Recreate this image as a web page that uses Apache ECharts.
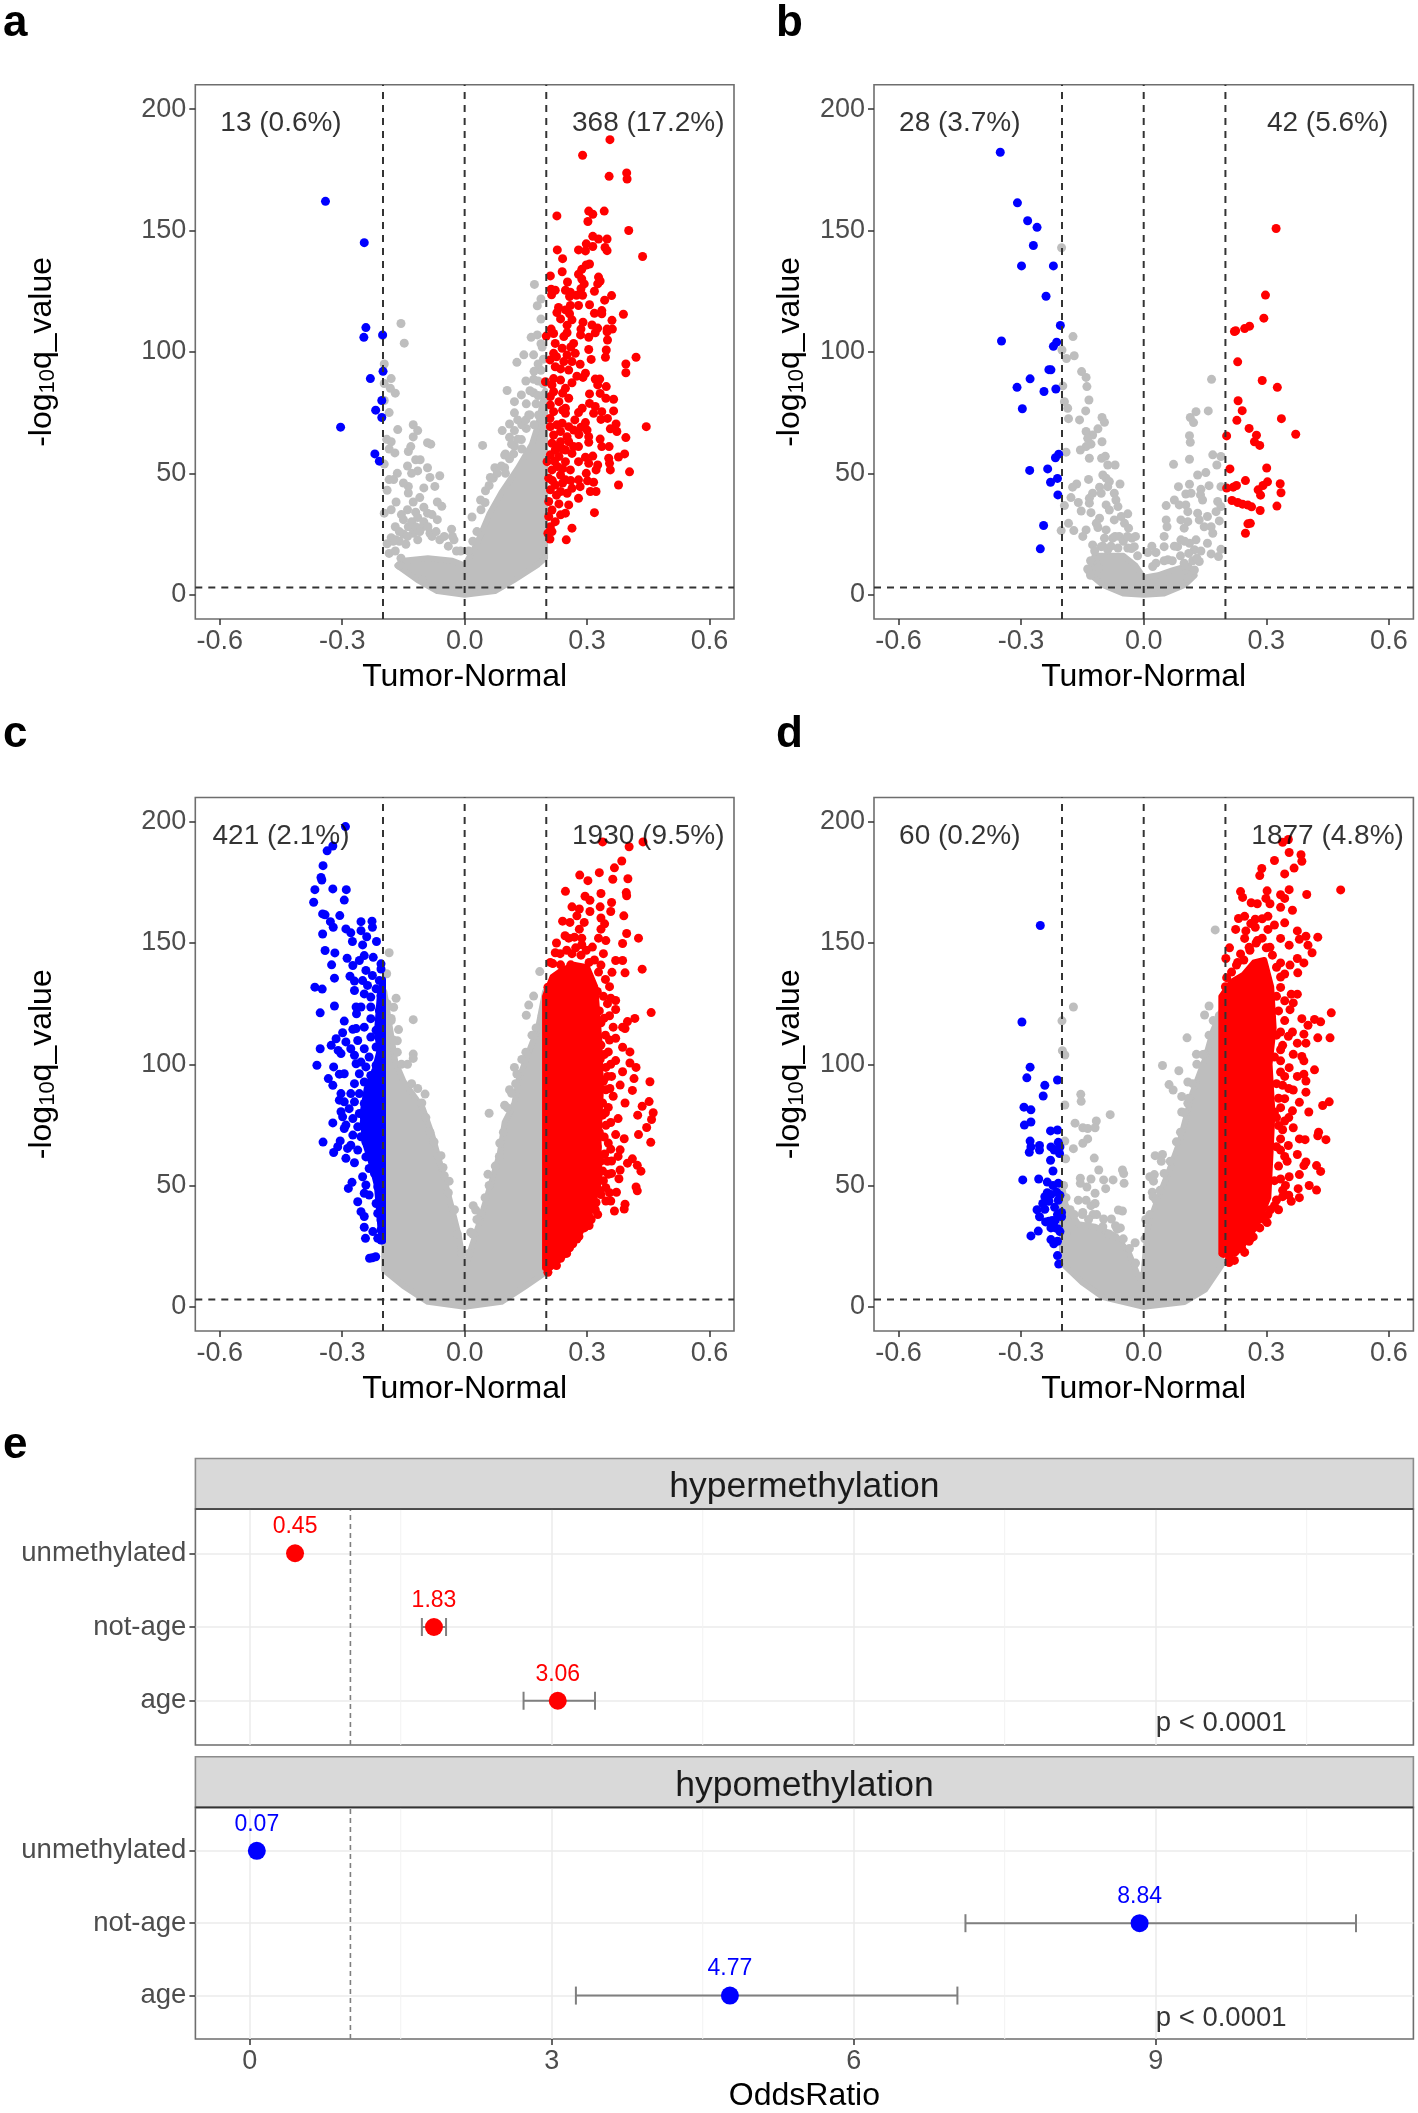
<!DOCTYPE html>
<html><head><meta charset="utf-8">
<script src="https://cdn.jsdelivr.net/npm/echarts@6/dist/echarts.min.js"></script>
<style>html,body{margin:0;padding:0;background:#fff}#c{width:1418px;height:2113px}</style>
</head><body><div id="c"></div>
<script>
// ---------- tick labels and categories ----------
const volcanoXTicks=[-0.6,-0.3,0,0.3,0.6];
const volcanoYTicks=[0,50,100,150,200];
const oddsXTicks=[0,3,6,9];
const oddsXMinor=[1.5,4.5,7.5,10.5];
const oddsCategories=['age','not-age','unmethylated'];
const oddsYTicks=[1,2,3];
const foldCuts=[-0.2,0,0.2];
const qCut=3;
const oddsRef=1;

// ---------- panel a ----------
const aBlue=[[-.341,162],[-.246,145],[-.242,110],[-.247,106],[-.201,107],[-.2,92],[-.231,89],[-.203,80],[-.218,76],[-.203,73],[-.304,69],[-.22,58],[-.209,55]];
const aRed=[[.356,187.4],[.289,181],[.354,172.3],[.397,173.7],[.398,171.2],[.226,156],[.304,158],[.314,156.7],[.342,158],[.302,153.7],[.402,150],[.314,147.6],[.328,146.5],[.349,146.5],[.227,142],[.279,142],[.296,141.6],[.298,144.5],[.314,143.4],[.344,143],[.349,141.7],[.436,139.3],[.24,138.4],[.306,136.2],[.298,135.8],[.287,134],[.239,133],[.21,131.3],[.279,132],[.287,130],[.328,130.8],[.332,129.2],[.326,128],[.252,128.8],[.293,128],[.285,126],[.212,125.8],[.222,125.4],[.247,125.4],[.259,124.6],[.274,123.3],[.289,123.3],[.318,125],[.213,123.5],[.257,122.8],[.36,123.2],[.343,121.3],[.23,118.3],[.259,119.1],[.279,119.1],[.306,119.4],[.226,116.2],[.247,117.3],[.257,115.7],[.318,115.9],[.336,117],[.336,115.7],[.389,115.5],[.235,113.6],[.263,113.2],[.361,113],[.251,111],[.29,112.2],[.212,109.4],[.285,109.4],[.312,111.1],[.326,109.8],[.349,109.4],[.362,109.4],
[.2,106.5],[.218,107.6],[.243,106.3],[.251,107.9],[.284,107],[.304,106],[.32,107.9],[.349,108.3],[.35,104.9],[.222,103.5],[.267,103.5],[.239,101.5],[.304,101],[.347,100.8],[.42,97.8],[.218,99.4],[.251,98.7],[.271,99.4],[.345,97.8],[.31,96.9],[.209,96.7],[.243,96],[.263,96],[.395,95],[.283,94.9],[.395,91.4],[.222,93.9],[.255,92.5],[.296,91.2],[.218,89],[.235,88.4],[.29,89.5],[.32,88.8],[.331,88.8],[.198,87.7],[.214,86.4],[.263,87.3],[.347,85.7],[.326,86.4],[.218,83.6],[.247,85],[.332,82.9],[.306,82.7],[.255,80.9],[.21,81.6],[.346,80.9],[.365,80.5],[.231,79.5],[.306,78.8],[.288,76.8],[.21,78.1],[.247,76.8],[.32,77.5],[.365,75.7],[.279,75],[.218,75.4],[.316,74.7],[.336,75.4],[.247,74.7],[.334,72.2],[.35,72.6],[.209,72.6],[.239,70.6],[.296,70.9],[.371,70.3],[.445,69.2],[.21,69.2],[.255,69.2],[.357,68.3],[.267,67.8],[.3,67.8],[.235,67.2],[.373,67.2],[.218,65.8],[.251,65.1],[.304,65.1],[.395,64.7],[.332,64.1],[.214,62.4],[.304,62.8],[.235,63],[.267,61],[.336,61],[.354,61],[.222,59.6],[.247,59.6],[.279,61],[.392,58],[.377,56.7],[.21,57.6],[.231,56.9],[.263,58.2],[.314,57.1],[.296,56.6],[.353,56.2],[.279,54.8],[.304,54.1],[.202,54.8],[.227,52.8],[.247,54.8],[.326,53.4],[.355,54.1],[.322,51.4],[.357,51.4],[.214,51.4],[.259,51.4],[.404,50.6],[.298,50],[.235,49.3],[.206,48],[.279,47.3],[.247,47.3],[.301,46.9],[.316,46.3],[.222,45.2],[.377,45.2],[.283,44.5],[.263,43.8],[.21,43.2],[.235,42.5],[.308,42.5],[.322,42.5],[.251,41.8],[.279,39.7],[.206,38.4],[.231,37.4],[.255,37],[.214,34.9],[.235,32.9],[.318,33.8],[.247,33.6],[.206,32.2],[.222,30.1],[.21,28],[.263,27.4],[.214,26],[.204,25.3],[.249,22.6],[.209,22.9],
[.225,98],[.235,93],[.26,102],[.275,90],[.24,83],[.226,70],[.24,76],[.27,72],[.285,69],[.225,61],[.24,60],[.255,63],[.28,66],[.22,55],[.24,52],[.26,47],[.215,47],[.225,41],[.24,46]];
const aGrey=[[-.156,111.7],[-.148,103.6],[-.201,106.7],[-.197,95],[-.18,89],[-.197,87],[-.182,85],[-.17,83],[-.197,80],[-.185,75],[-.164,68],[-.126,70],[-.115,67.6],[-.126,65],[-.191,64],[-.18,63],[-.091,62.6],[-.083,62],[-.132,61],[-.185,60],[-.171,58.4],[-.138,59],[-.12,55.6],[-.109,55.6],[-.197,53.8],[-.091,52.3],[-.115,51],[-.061,49],[-.085,48.3],[-.185,47.4],[-.174,47.4],[-.138,44.6],[-.073,44.6],[-.138,41.9],[-.168,38.2],[-.126,38.2],[-.067,38.2],[-.056,36.4],[-.197,33.6],[-.15,30.9],[-.115,31.8],[-.091,33.6],[-.138,28],[-.103,28],[-.067,30.9],[-.032,27],[-.126,25.3],[-.085,25.3],[-.18,23.5],[-.168,22.6],[-.115,22.6],[-.061,22.6],[-.026,22.6],[-.144,20.8],[-.185,17],[-.156,15],[-.159,12],[-.103,6],
[.171,127.8],[.187,121.8],[.178,119],[.187,113.5],[.163,106],[.178,107],[.187,103.4],[.145,98.8],[.169,98.8],[.128,95.7],[.193,97],[.187,92.4],[.169,88.7],[.193,86.9],[.104,84.1],[.139,82.3],[.169,83.2],[.193,82.3],[.122,79.5],[.151,78.6],[.175,78.6],[.193,76.8],[.122,74.9],[.157,74],[.181,74],[.11,70.3],[.092,67.6],[.122,67.6],[.151,68.5],[.11,64.8],[.139,63.9],[.044,61.5],[.122,61.2],[.098,57.5],[.074,52.3],[.098,52.3],[.063,48.3],[.051,42.8],[.039,39],[.018,32],
[.04,35],[.05,38],[.06,45],[.07,48],[.08,50],[.09,53],[.1,58],[.1,50],[.11,56],[.12,58],[.13,64],[.14,60],[.14,70],[.15,72],[.16,74],[.16,84],[.17,70],[.17,92],[.18,88],[.18,95],[.19,102],[.19,72],[.18,82],[.15,88],[.13,72],[.115,62],[.03,26],[.02,22],[.01,18],
[-.16,22],[-.15,25],[-.14,24],[-.13,30],[-.12,28],[-.11,26],[-.1,30],[-.09,28],[-.08,24],[-.07,26],[-.05,24],[-.04,20],[-.03,24],[-.02,18],[-.01,18],[-.17,18],[-.12,34],[-.1,36],[-.14,35],[-.16,26],[-.155,33],[-.08,33],[-.11,40],[-.15,46],[-.13,50],[-.1,44],[-.165,50],[-.14,53],[-.18,35],[-.19,43],[-.175,22],[-.19,21],[-.17,28]];
const aGreyCore=[[-.165,12],[-.115,6],[-.067,1.5],[0,0],[.074,1.5],[.12,6],[.18,12.5],[.197,15],[.197,84],[.18,70],[.165,62],[.13,52],[.09,42],[.06,33],[.03,21],[0,12],[-.03,14],[-.09,15],[-.15,14]];

// ---------- panel b ----------
const bBlue=[[-.351,182.2],[-.309,161.4],[-.284,154],[-.261,151.3],[-.27,143.8],[-.299,135.4],[-.221,135.4],[-.239,122.9],[-.204,110.9],[-.348,104.5],[-.213,104],[-.221,102.3],[-.232,92.7],[-.227,92.6],[-.278,88.9],[-.31,85.4],[-.244,83.7],[-.215,84.7],[-.297,76.6],[-.208,57.9],[-.216,56.4],[-.235,51.8],[-.279,51.2],[-.211,47.9],[-.228,46.3],[-.21,41.1],[-.245,28.5],[-.253,18.9]];
const bRed=[[.324,150.8],[.298,123.4],[.294,113.9],[.259,110.6],[.247,109.6],[.225,108.7],[.222,108.4],[.23,95.9],[.29,88.2],[.327,85.4],[.231,79.9],[.241,75.8],[.228,71.8],[.337,72.5],[.258,68.5],[.276,65.7],[.203,65.4],[.372,66.1],[.271,63],[.284,61.5],[.211,51.8],[.301,52.2],[.249,47],[.303,46.5],[.334,45.7],[.292,45],[.227,45],[.219,44.3],[.203,43.9],[.28,43.2],[.336,42],[.286,41],[.216,38.8],[.23,38],[.242,37.3],[.255,36.9],[.264,36.2],[.326,36.5],[.285,34.7],[.261,29.4],[.255,29.2],[.249,25.3]];
const bGrey=[[-.201,142.9],[-.173,106.3],[-.2,100.8],[-.189,97.3],[-.17,98.4],[-.152,91.9],[-.141,89.5],[-.139,85.7],[-.198,86],[-.134,80.2],[-.194,79.5],[-.186,76.8],[-.142,75.7],[-.184,72.5],[-.157,72],[-.102,73],[-.096,71],[-.112,68.3],[-.141,67.2],[-.125,65.8],[-.137,64.4],[-.102,63],[-.129,62],[-.141,61],[-.155,59.6],[-.19,58.7],[-.094,57],[-.133,56.2],[-.103,56.2],[-.088,53.4],[-.07,53.4],[-.1,49.3],[-.092,48],[-.135,47.5],[-.084,46.6],[-.164,45.6],[-.058,45.6],[-.174,44.3],[-.108,44.3],[-.088,44.5],[-.125,41.8],[-.072,41.8],[-.178,40],[-.133,39.7],[-.104,41.8],[-.068,39],[-.16,38],[-.194,36.7],[-.133,37.7],[-.092,37],[-.063,36.3],[-.153,34.5],[-.129,33.8],[-.084,34.9],[-.039,33.3],[-.055,32.2],[-.108,31.5],[-.072,30.8],[-.116,29.4],[-.047,29.4],[-.184,29.4],[-.037,27.4],[-.141,26.7],[-.202,26.4],[-.171,26.4],[-.112,27.7],[-.092,26.7],[-.149,24],[-.096,23.3],[-.076,23.3],[-.029,23.3],[-.125,20.5],[-.104,19.8],[-.023,19.8],[-.137,10.6],[-.119,14.4],[-.088,18.5],[-.063,19.2],[-.039,19.2],
[.166,88.7],[.128,75.4],[.158,75.7],[.114,73],[.122,70.9],[.112,65.5],[.114,62.8],[.112,55.8],[.073,53.7],[.169,57.6],[.189,56.9],[.179,53.4],[.152,50.3],[.132,49.3],[.112,45.5],[.085,44.5],[.16,44.9],[.14,43.4],[.189,44.5],[.103,41.5],[.116,41.8],[.139,41.1],[.075,39],[.144,39],[.181,38.4],[.055,36.7],[.087,37],[.103,37],[.189,36.3],[.108,34.2],[.132,33.6],[.177,34.2],[.055,30.8],[.091,30.8],[.136,30.8],[.156,32.2],[.108,30.1],[.185,30.4],[.057,28],[.148,28],[.165,28],[.099,27.4],[.169,25.3],[.05,24],[.091,22.6],[.128,22.6],[.112,21.2],[.156,21.2],[.05,19.8],[.083,19.8],[.189,18.7],[.01,17.4],[.03,17.4],[.124,18.5],[.165,16.8],[.183,15.7],[.059,14.4],[.136,13.7],[.099,13],[.124,10.2],[.108,6.8],[.022,11.6],
[-.13,14],[-.12,18],[-.1,20],[-.08,20],[-.07,24],[-.06,24],[-.05,22],[-.04,24],[-.03,19],[-.02,24],[-.015,16],[-.11,11],[-.13,8],[.03,13],[.05,14],[.07,14],[.09,16],[.11,17],[.12,14],[.13,15],[.14,18],[.02,20],[.075,20],[.1,22]];
const bGreyCore=[[-.135,9],[-.1,4],[-.05,.5],[0,0],[.05,.5],[.1,4],[.125,8],[.11,12],[.07,10],[.035,8],[0,7],[-.02,12],[-.05,16],[-.12,16]];

// ---------- panel c ----------
const cBlue=[[-.292,198],[-.323,190],[-.337,188],[-.347,181.9],[-.352,177],[-.35,176],[-.367,172],[-.323,172.3],[-.29,172],[-.295,167.7],[-.37,166.8],[-.348,162],[-.342,161.6],[-.306,161.3],[-.329,158.8],[-.322,156.5],[-.254,158.8],[-.227,159],[-.226,156.5],[-.348,153.7],[-.291,155.8],[-.279,154.2],[-.254,155.1],[-.24,152.6],[-.275,150.6],[-.25,149.2],[-.216,150.6],[-.342,146.9],[-.318,145.9],[-.288,143.7],[-.246,144.8],[-.224,144.1],[-.326,141],[-.274,140.7],[-.258,142.8],[-.205,141.4],[-.205,139.3],[-.242,138.7],[-.281,136.3],[-.319,135.5],[-.226,136.6],[-.27,134.3],[-.25,134.5],[-.209,134.5],[-.367,131.8],[-.349,131],[-.27,130.4],[-.238,132.5],[-.217,131.1],[-.246,129],[-.23,127.7],[-.205,128.4],[-.319,124],[-.266,123.6],[-.254,123.6],[-.354,121.2],[-.23,123.6],[-.265,120.8],[-.209,122.2],[-.23,118.8],[-.295,117.8],[-.205,116.7],[-.274,114.4],[-.266,114.7],[-.246,115.3],[-.217,114],[-.299,113],[-.315,110.5],[-.262,109.8],[-.23,111.2],[-.205,111.2],[-.291,109.2],[-.327,107.8],[-.354,106.4],[-.279,106.4],[-.246,106.4],[-.217,107.1],[-.31,105.7],[-.303,104.4],[-.27,103.7],[-.205,105.1],[-.234,103],[-.254,100.9],[-.362,99.6],[-.321,98.9],[-.266,100.2],[-.217,99.6],[-.242,98.9],[-.295,96.1],[-.307,95.9],[-.258,96.1],[-.334,94.1],[-.23,95.4],[-.205,96.1],[-.323,91.3],[-.27,92],[-.246,92.7],[-.217,92],[-.205,89.3],[-.303,87.9],[-.279,87.9],[-.234,88.6],[-.258,87.9],[-.307,85.2],[-.295,84.5],[-.27,84.5],[-.217,85.2],[-.246,83.8],[-.303,80.4],[-.283,81.7],[-.234,81.7],[-.205,80.4],[-.258,79.7],[-.299,78.3],[-.274,77.6],[-.217,77.6],[-.323,75.8],[-.291,74.9],[-.246,76.2],[-.205,74.9],[-.262,74.2],[-.295,73.5],[-.234,73.5],[-.274,70.8],[-.217,70.8],[-.254,70.1],[-.305,68.4],[-.347,67.9],[-.205,69.4],[-.242,68],[-.279,66.6],[-.311,66],[-.287,65.3],[-.23,66],[-.262,64.6],[-.321,63.6],[-.209,64.6],[-.291,61.2],[-.27,59.4],[-.242,61.8],[-.217,61.2],[-.205,59.1],[-.234,57],[-.25,53.6],[-.221,55],[-.205,53.6],[-.276,51.3],[-.285,48.8],[-.242,50.2],[-.213,49.5],[-.234,46.1],[-.262,43.3],[-.246,46.8],[-.205,46.1],[-.217,42.6],[-.254,39.2],[-.246,37.2],[-.213,38.5],[-.205,35.8],[-.246,32.8],[-.225,31],[-.205,31.7],[-.243,28.2],[-.213,28.2],[-.205,27.5],[-.233,20],[-.218,20.6],[-.226,20.2]];
const cBlueCore=[[-.2,27],[-.2,135],[-.208,128],[-.215,113],[-.208,106],[-.22,98],[-.24,90],[-.25,80],[-.245,68],[-.23,60],[-.215,50],[-.208,36],[-.204,27]];
const cRed=[[.338,191.7],[.403,189.7],[.437,191.7],[.385,183.8],[.367,181],[.33,179],[.282,178],[.302,175.7],[.363,176.3],[.4,176.5],[.247,171.3],[.396,170.8],[.334,170.4],[.295,169.3],[.36,166.7],[.307,167.6],[.397,169.5],[.332,164.9],[.263,164.9],[.281,164],[.307,163],[.358,163],[.275,161.2],[.24,159],[.39,161.2],[.334,160.3],[.258,158.5],[.293,158.5],[.343,157.9],[.281,155.7],[.334,155.7],[.246,153],[.397,153.9],[.269,152.4],[.426,152],[.287,152],[.328,152],[.346,151],[.387,149.8],[.287,149.3],[.234,145.6],[.313,148.3],[.263,145.6],[.34,145.6],[.216,141.5],[.37,142.8],[.387,142.8],[.435,139.2],[.361,137.9],[.393,137.7],[.204,131.8],[.334,140.9],
[.358,127.2],[.37,126.3],[.37,122.6],[.457,121.3],[.417,118.9],[.399,117.6],[.387,115.3],[.364,115.3],[.334,117.1],[.393,114.7],[.37,110.7],[.387,107],[.334,107.9],[.352,105.1],[.405,105.1],[.37,101.5],[.405,100.5],[.42,98.7],[.346,98.7],[.387,96.9],[.36,95],[.415,94.1],[.454,92.8],[.381,91.4],[.411,89.2],[.346,89.5],[.364,86.8],[.452,84.6],[.393,84],[.435,82.7],[.352,82.2],[.462,80],[.424,79],[.458,77.2],[.376,77.6],[.346,74.8],[.446,73.9],[.37,71],[.426,71],[.456,67.8],[.391,69.3],[.352,67.5],[.381,64.7],[.411,61],[.376,62],[.399,59.2],[.36,60.1],[.423,58.3],[.432,55.9],[.381,56.4],[.352,54.6],[.378,52.8],[.42,49.4],[.423,47.8],[.346,49.1],[.372,47.2],[.334,46.3],[.393,42.3],[.391,40.3],[.367,39.5],[.326,38],[.305,37.1],[.358,43.6],[.305,33.5],[.293,32.5],[.275,27.9],[.257,24.3],[.24,21.5],[.216,17.8],[.204,14.2],[.287,36.2],[.346,43.6],[.345,135],[.35,125],[.345,112],[.35,95],[.345,80],[.35,60],[.34,52],[.315,42],
[.325,130],[.33,122],[.322,115],[.328,108],[.332,102],[.324,96],[.33,90],[.338,84],[.326,78],[.33,72],[.325,66],[.333,60],[.326,54],[.33,48],[.322,43],[.34,128],[.342,119],[.342,104],[.34,93],[.338,79],[.342,70],[.343,63],[.338,56],[.355,132],[.355,120],[.355,110],[.358,100],[.356,90],[.358,76],[.358,65],[.36,55],[.355,47],[.21,142],[.222,146],[.235,141],[.25,147],[.26,141],[.272,148],[.285,145],[.298,147],[.305,142],[.318,143],[.328,138],[.225,17],[.235,20],[.25,22],[.265,26],[.28,29],[.295,33],[.31,36],[.32,40],[.225,150],[.255,152]];
const cRedCore=[[.197,16],[.197,128],[.215,136],[.24,139],[.27,141],[.3,140],[.32,132],[.33,110],[.334,90],[.328,70],[.33,52],[.31,40],[.285,31],[.26,25],[.235,20],[.21,16]];
const cGrey=[[-.185,146],[-.191,137.3],[.184,138.2],[.169,128.1],[.157,124.4],[.151,120.2],[-.168,127.2],[-.174,123.5],[-.18,118.9],[-.126,118.4],[-.162,114.3],[-.165,109.7],[-.126,104.2],[-.126,102.4],[-.097,87.7],[.122,98.7],[.128,96],[.11,89.5],[.06,79.8],[.098,83.1],[-.058,62.3],[-.053,57.4],[-.038,51.8],[.057,54.6],[.086,67.5],[.021,41.7],[.027,39.9],[.015,30.7],
[-.19,125],[-.18,118],[-.175,110],[-.165,105],[-.155,100],[-.14,100],[-.13,92],[-.115,90],[-.105,84],[-.095,78],[-.085,72],[-.075,68],[-.065,62],[-.05,54],[-.04,47],[-.025,40],[-.018,30],[-.008,22],[.19,120],[.175,115],[.165,112],[.15,105],[.14,102],[.125,92],[.115,88],[.105,82],[.095,72],[.085,62],[.075,58],[.06,50],[.05,45],[.04,38],[.03,36],[.02,30],[.01,22]];
const cGreyCore=[[-.197,15],[-.15,8.6],[-.09,2],[0,0],[.09,2],[.15,8.6],[.197,14],[.197,130],[.18,115],[.157,105],[.133,94],[.122,84],[.098,76],[.086,63],[.063,50],[.033,33],[.01,21],[0,14],[-.014,29],[-.032,41],[-.055,56],[-.08,71],[-.103,82],[-.15,93],[-.17,101],[-.197,130]];

// ---------- panel d ----------
const dBlue=[[-.253,157.2],[-.298,117.4],[-.278,98.8],[-.286,94.4],[-.211,93.5],[-.242,91.3],[-.246,86.9],[-.293,82.3],[-.276,81.2],[-.292,74.9],[-.276,76.2],[-.228,72.5],[-.211,72.9],[-.278,68.3],[-.209,67.8],[-.255,66.5],[-.276,65.9],[-.227,65.9],[-.205,65.9],[-.255,64.6],[-.28,63.7],[-.219,64.6],[-.206,63.2],[-.228,60.4],[-.222,56],[-.296,52.3],[-.257,52.7],[-.236,51.4],[-.222,50],[-.209,50.9],[-.242,45.4],[-.227,46.3],[-.213,47.2],[-.247,42.6],[-.232,43.5],[-.209,43.9],[-.261,40],[-.242,40.2],[-.255,37.1],[-.211,38],[-.201,38.9],[-.232,35.3],[-.224,35.6],[-.201,37.1],[-.227,32.5],[-.216,32.5],[-.209,32.1],[-.258,31.2],[-.276,29.2],[-.227,27.7],[-.22,26],[-.211,27],[-.211,21.1],[-.208,17.6],[-.236,47],[-.218,41],[-.205,46],[-.24,35],[-.217,35.5],[-.205,31]];
const dRed=[[.34,191.5],[.354,192.7],[.356,187.3],[.385,186.4],[.32,184],[.387,183.7],[.368,180.9],[.289,180.7],[.284,177.8],[.345,178.5],[.482,171.9],[.237,171.2],[.242,168.8],[.302,171.5],[.356,172],[.399,170],[.335,169.9],[.299,168.4],[.263,166.6],[.309,166.2],[.278,166.2],[.345,168.4],[.364,163.5],[.335,164.7],[.247,161],[.232,160.1],[.273,159.8],[.304,161],[.345,158.3],[.32,157.4],[.225,155.6],[.273,156.5],[.304,155.6],[.376,155],[.397,152.8],[.426,152.4],[.247,151.9],[.278,151],[.335,151.9],[.381,151.5],[.402,149.1],[.356,149.1],[.258,148.2],[.309,148.2],[.237,145.5],[.412,146],[.201,143.6],[.376,143.6],[.392,141.8],[.335,141.8],[.227,140.9],[.358,140.9],[.377,137.7],[.345,137.2],[.203,135.7],[.361,128.9],[.376,128.9],[.335,131.7],
[.345,126.2],[.366,125.3],[.358,122.5],[.459,121.2],[.387,118.8],[.418,118.5],[.433,117.5],[.402,116.1],[.364,113.3],[.426,110.9],[.456,110.9],[.335,113.3],[.392,112.4],[.354,111.5],[.376,108.7],[.34,107.8],[.397,108.7],[.366,104.1],[.387,103.2],[.335,101.4],[.392,101.4],[.418,97.7],[.392,95.9],[.356,98.6],[.335,96.8],[.376,95],[.397,93.1],[.366,89.4],[.34,91.3],[.397,88.5],[.454,84.5],[.381,84.3],[.438,83],[.345,85.8],[.364,80.8],[.404,80.3],[.335,82.1],[.32,80.3],[.345,76.6],[.366,73.8],[.33,74.7],[.428,72],[.426,70.5],[.381,69.2],[.395,68.9],[.446,68.9],[.335,69.2],[.354,66.5],[.376,62.8],[.335,64.6],[.397,59.7],[.392,58.2],[.423,58.2],[.433,55.8],[.351,60],[.381,54.5],[.356,53.6],[.335,52.7],[.347,50],[.405,50],[.378,48.7],[.423,48.1],[.34,45.4],[.361,43.5],[.381,45],[.32,41.7],[.304,38],[.302,34.7],[.284,32.5],[.258,27],[.247,22.4],[.222,19.1],[.209,18.2],[.268,28.8],[.289,37.1],
[.2,132],[.215,138],[.23,142],[.245,143],[.26,147],[.275,150],[.29,152],[.3,148],[.315,145],[.325,140],[.335,136],[.25,155],[.262,158],[.29,160],[.21,148],[.325,128],[.33,122],[.345,118],[.325,112],[.335,106],[.32,103],[.325,92],[.345,95],[.33,86],[.355,90],[.325,78],[.34,73],[.355,78],[.325,66],[.345,62],[.33,58],[.32,52],[.34,48],[.325,44],[.355,46],[.31,40],[.33,40],[.295,36],[.275,33],[.26,28],[.24,24],[.21,20],[.195,22],[.2,24]];
const dRedCore=[[.19,22],[.19,128],[.215,134],[.245,137],[.27,142],[.295,143],[.312,132],[.318,115],[.308,100],[.315,80],[.31,62],[.305,45],[.28,35],[.255,28],[.225,22]];
const dGrey=[[.175,155.4],[.2,126],[.16,124],[.149,120.3],[.106,110.9],[.129,104.1],[.149,104.1],[.046,99.5],[.086,97.3],[.108,92.7],[.062,91.6],[.072,89.4],[.093,86.7],[.108,83.9],[.093,80.3],[.028,62.3],[.046,62.8],[.043,60],[.026,54.5],[.015,53.6],[.024,51.8],[.021,47.2],[.023,45.4],
[-.172,123.6],[-.2,117.9],[-.199,105.6],[-.193,103.8],[-.154,87.6],[-.153,84.7],[-.193,83.2],[-.082,79.2],[-.168,75.7],[-.116,76.6],[-.149,73.8],[-.137,73.5],[-.119,73.8],[-.137,69.2],[-.149,67.4],[-.193,68.3],[-.172,65.2],[-.191,61],[-.121,61.3],[-.11,56.4],[-.052,56.4],[-.049,54.9],[-.155,53],[-.129,52.7],[-.155,50.9],[-.098,52.3],[-.075,52.3],[-.048,50.9],[-.139,49.4],[-.093,48.7],[-.119,46.8],[-.16,43.9],[-.141,43.9],[-.119,42.6],[-.129,41.7],[-.062,39.9],[-.052,39.5],[-.149,38.9],[-.124,38],[-.098,36.2],[-.079,36.2],[-.069,33.4],[-.057,32.5],[-.021,26.4],
[.185,120],[.17,118],[.16,112],[.145,104],[.13,100],[.12,92],[.11,86],[.1,80],[.09,72],[.08,68],[.065,60],[.05,55],[.04,48],[.03,44],[.015,38],[.005,36],[.003,28],[-.19,45],[-.18,40],[-.17,38],[-.15,38],[-.135,36],[-.115,38],[-.1,33],[-.085,30],[-.065,32],[-.05,28],[-.035,24],[-.02,18],[-.19,30],[-.196,50]];
const dGreyCore=[[-.2,18],[-.15,10],[-.1,4],[0,0],[.1,2],[.15,7],[.19,17],[.19,122],[.17,114],[.15,102],[.119,88],[.088,68],[.062,56],[.036,45],[.01,33],[0,14],[-.012,12],[-.036,22],[-.067,29],[-.119,33],[-.16,34],[-.191,42],[-.2,50]];

const panelCounts=[['13 (0.6%)','368 (17.2%)'],['28 (3.7%)','42 (5.6%)'],['421 (2.1%)','1930 (9.5%)'],['60 (0.2%)','1877 (4.8%)']];
const countX=[-0.45,0.45];
const countY=194;

// ---------- panel e ----------
const hyperOdds=[3.06,1.83,0.45];
const hyperLow=[2.72,1.71,null];
const hyperHigh=[3.43,1.95,null];
const hypoOdds=[4.77,8.84,0.07];
const hypoLow=[3.24,7.11,null];
const hypoHigh=[7.03,10.99,null];
const pText='p < 0.0001';
const pPos=[9.65,0.69];

// ---------- styles and layout ----------
const FONT='Liberation Sans',GREY='#bebebe',RED='#ff0000',BLUE='#0000ff',LAB='#4d4d4d',INK='#333333',EDGE='#6e6e6e';
const boxes=[
 {left:195.3,top:84.8,width:538.7,height:534.2,gap:136},
 {left:874,top:84.8,width:539.4,height:534.2,gap:66},
 {left:195.3,top:797.5,width:538.7,height:533.5,gap:136},
 {left:874,top:797.5,width:539.4,height:533.5,gap:66}];
const eBoxes=[{left:195.4,top:1509,width:1218,height:236},{left:195.4,top:1807.4,width:1218,height:236}];

const grid=[],xAxis=[],yAxis=[],series=[];
boxes.forEach((b,i)=>{
  grid.push({left:b.left,top:b.top,width:b.width,height:b.height,show:true,borderColor:EDGE,borderWidth:1.6,backgroundColor:'#fff'});
  xAxis.push({type:'value',gridIndex:i,min:-0.66,max:0.66,splitLine:{show:false},axisLine:{show:false,onZero:false},
    axisTick:{customValues:volcanoXTicks,length:6,lineStyle:{color:INK,width:1.5}},
    axisLabel:{customValues:volcanoXTicks,formatter:v=>v.toFixed(1),color:LAB,fontSize:27,margin:9,fontFamily:FONT},
    name:'Tumor-Normal',nameLocation:'middle',nameGap:42,nameTextStyle:{fontSize:32,color:'#000',fontFamily:FONT}});
  yAxis.push({type:'value',gridIndex:i,min:-10,max:210,splitLine:{show:false},axisLine:{show:false,onZero:false},
    axisTick:{customValues:volcanoYTicks,length:6,lineStyle:{color:INK,width:1.5}},
    axisLabel:{customValues:volcanoYTicks,color:LAB,fontSize:27,margin:9,padding:[9,0,0,0],fontFamily:FONT},
    name:'{n|-log}{s|10}{n|q_value}',nameLocation:'middle',nameGap:b.gap,
    nameTextStyle:{color:'#000',fontFamily:FONT,rich:{n:{fontSize:32,color:'#000',fontFamily:FONT},s:{fontSize:22,color:'#000',fontFamily:FONT,padding:[13,0,0,0]}}}});
});
eBoxes.forEach((b,k)=>{
  const i=4+k;
  grid.push({left:b.left,top:b.top,width:b.width,height:b.height,show:true,borderColor:EDGE,borderWidth:1.6,backgroundColor:'#fff'});
  xAxis.push({type:'value',gridIndex:i,min:-0.54,max:11.56,axisLine:{show:false,onZero:false},
    splitLine:{show:true,lineStyle:{color:'#ebebeb',width:1.5}},
    axisTick:{show:k===1,customValues:oddsXTicks,length:6,lineStyle:{color:INK,width:1.5}},
    axisLabel:{show:k===1,customValues:oddsXTicks,color:LAB,fontSize:27,margin:9,fontFamily:FONT},
    name:k===1?'OddsRatio':'',nameLocation:'middle',nameGap:41,nameTextStyle:{fontSize:32,color:'#000',fontFamily:FONT}});
  yAxis.push({type:'value',gridIndex:i,min:0.4,max:3.6,axisLine:{show:false,onZero:false},
    splitLine:{show:true,lineStyle:{color:'#ebebeb',width:1.5}},
    axisTick:{customValues:oddsYTicks,length:6,lineStyle:{color:INK,width:1.5}},
    axisLabel:{customValues:oddsYTicks,formatter:v=>oddsCategories[v-1],color:LAB,fontSize:27.5,margin:9,padding:[9,0,0,0],fontFamily:FONT}});
});

function core(poly,color,i,z){
  series.push({type:'custom',xAxisIndex:i,yAxisIndex:i,silent:true,z:z,clip:true,data:[[0,0]],
    renderItem:(p,api)=>({type:'polygon',shape:{points:poly.map(q=>api.coord(q))},
      style:{fill:color,stroke:color,lineWidth:6,lineJoin:'round'}})});
}
function dots(data,color,i,z){
  series.push({type:'scatter',xAxisIndex:i,yAxisIndex:i,data:data,symbolSize:9,itemStyle:{color:color,opacity:1},silent:true,z:z});
}
function rule(data,i,color,width,dash,z){
  series.push({type:'line',xAxisIndex:i,yAxisIndex:i,data:data,symbol:'none',silent:true,z:z,
    lineStyle:{color:color,width:width,type:dash}});
}
function note(pos,text,i,size,color){
  series.push({type:'scatter',xAxisIndex:i,yAxisIndex:i,data:[pos],symbolSize:1,itemStyle:{color:'rgba(0,0,0,0)'},silent:true,z:9,
    label:{show:true,position:'inside',formatter:text,fontSize:size,color:color,fontFamily:FONT}});
}
[[aGreyCore,aGrey,aRed,aBlue,null,null],[bGreyCore,bGrey,bRed,bBlue,null,null],[cGreyCore,cGrey,cRed,cBlue,cRedCore,cBlueCore],[dGreyCore,dGrey,dRed,dBlue,dRedCore,null]].forEach((p,i)=>{
  core(p[0],GREY,i,1);
  dots(p[1],GREY,i,2);
  if(p[4]) core(p[4],RED,i,3);
  dots(p[2],RED,i,4);
  if(p[5]) core(p[5],BLUE,i,3);
  dots(p[3],BLUE,i,4);
  foldCuts.forEach(x=>rule([[x,-10],[x,210]],i,INK,2,[7,6],6));
  rule([[-0.66,qCut],[0.66,qCut]],i,INK,2,[7,6],6);
  note([countX[0],countY],panelCounts[i][0],i,28,'#000');
  note([countX[1],countY],panelCounts[i][1],i,28,'#000');
});
[[hyperOdds,hyperLow,hyperHigh,RED],[hypoOdds,hypoLow,hypoHigh,BLUE]].forEach((p,k)=>{
  const i=4+k;
  oddsXMinor.forEach(x=>rule([[x,0.4],[x,3.6]],i,'#f2f2f2',1,'solid',1));
  rule([[oddsRef,0.4],[oddsRef,3.6]],i,'#7f7f7f',1.6,[5,4],2);
  p[0].forEach((v,r)=>{
    if(p[1][r]===null) return;
    series.push({type:'line',xAxisIndex:i,yAxisIndex:i,data:[[p[1][r],oddsYTicks[r]],[p[2][r],oddsYTicks[r]]],
      symbol:'rect',symbolSize:[2,18],silent:true,z:3,itemStyle:{color:'#7f7f7f'},lineStyle:{color:'#7f7f7f',width:2}});
  });
  series.push({type:'scatter',xAxisIndex:i,yAxisIndex:i,data:p[0].map((v,r)=>[v,oddsYTicks[r]]),symbolSize:18,silent:true,z:4,
    itemStyle:{color:p[3],opacity:1},
    label:{show:true,position:'top',distance:6,formatter:o=>o.value[0].toFixed(2),fontSize:23,color:p[3],fontFamily:FONT}});
  note(pPos,pText,i,27.5,'#000');
});

const letter=(t,x,y)=>({type:'text',x:x,y:y,z:20,style:{text:t,fontFamily:FONT,fontWeight:'bold',fontSize:44,fill:'#000'}});
const strip=(t,y,h)=>[
 {type:'rect',z:20,shape:{x:195.4,y:y,width:1218,height:h},style:{fill:'#d9d9d9',stroke:'#8c8c8c',lineWidth:1.6}},
 {type:'line',z:21,shape:{x1:195.4,y1:y+h,x2:1413.4,y2:y+h},style:{stroke:INK,lineWidth:1.6}},
 {type:'text',z:21,x:804.4,y:y+29,style:{text:t,fontFamily:FONT,fontSize:35.5,fill:'#1a1a1a',textAlign:'center',textVerticalAlign:'middle'}}];
const graphic=[letter('a',3,2),letter('b',776,2),letter('c',3,713),letter('d',776,713),letter('e',3,1424)]
  .concat(strip('hypermethylation',1458.5,50.5),strip('hypomethylation',1756.8,50.6));

const chart=echarts.init(document.getElementById('c'));
chart.setOption({animation:false,backgroundColor:'#fff',textStyle:{fontFamily:FONT},grid,xAxis,yAxis,series,graphic});
</script></body></html>
